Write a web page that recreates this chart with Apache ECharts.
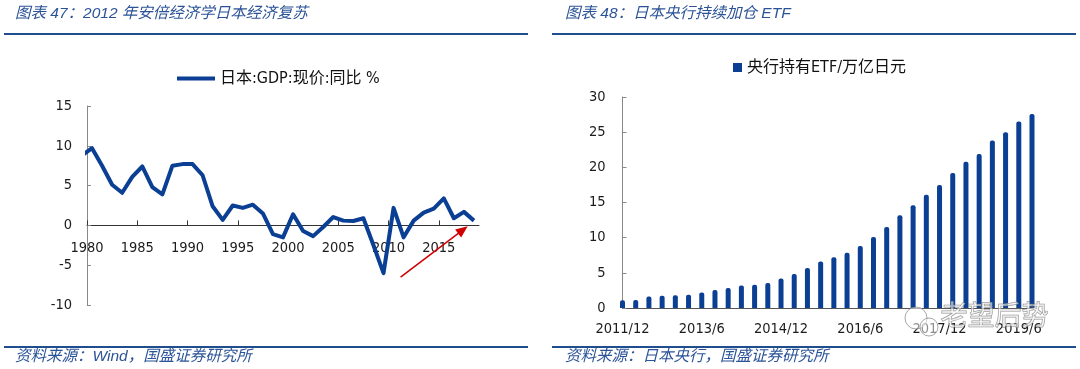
<!DOCTYPE html>
<html><head><meta charset="utf-8">
<script src="https://cdn.jsdelivr.net/npm/echarts@6/dist/echarts.min.js"></script>
<style>html,body{margin:0;padding:0;background:#fff}#c{width:1080px;height:369px}</style>
</head><body><div id="c"></div>
<script>
// ---------- Data ----------
const gdpYears = [1979,1980,1981,1982,1983,1984,1985,1986,1987,1988,1989,1990,1991,1992,1993,1994,1995,1996,1997,1998,1999,2000,2001,2002,2003,2004,2005,2006,2007,2008,2009,2010,2011,2012,2013,2014,2015,2016,2017,2018];
const gdpValues = [8.8,9.7,7.5,5.1,4.1,6.1,7.4,4.8,3.9,7.5,7.7,7.7,6.3,2.4,0.7,2.5,2.2,2.6,1.5,-1.1,-1.5,1.4,-0.7,-1.35,-0.2,1.05,0.6,0.55,0.9,-2.5,-6.0,2.2,-1.5,0.6,1.6,2.1,3.4,0.9,1.7,0.6];
const gdpXTicks = [1980,1985,1990,1995,2000,2005,2010,2015];
const gdpName = '日本:GDP:现价:同比 %';
const arrowFrom = [2011.2, -6.5];
const arrowTo = [2017.4, -0.55];

const etfQuarters = ['2011/12','2012/3','2012/6','2012/9','2012/12','2013/3','2013/6','2013/9','2013/12','2014/3','2014/6','2014/9','2014/12','2015/3','2015/6','2015/9','2015/12','2016/3','2016/6','2016/9','2016/12','2017/3','2017/6','2017/9','2017/12','2018/3','2018/6','2018/9','2018/12','2019/3','2019/6','2019/9'];
const etfValues = [1.1,1.15,1.65,1.75,1.8,1.9,2.2,2.55,2.85,3.2,3.3,3.55,4.2,4.85,5.7,6.6,7.2,7.85,8.8,10.1,11.5,13.2,14.6,16.1,17.5,19.2,20.8,21.9,23.8,25.0,26.5,27.6];
const etfName = '央行持有ETF/万亿日元';

const titleLeft = '图表 47：2012 年安倍经济学日本经济复苏';
const titleRight = '图表 48：日本央行持续加仓 ETF';
const sourceLeft = '资料来源：Wind，国盛证券研究所';
const sourceRight = '资料来源：日本央行，国盛证券研究所';
const watermark = '老望后势';

// ---------- Chart ----------
const FONT = "'DejaVu Sans Condensed', 'Noto Sans CJK SC', sans-serif";
const HFONT = "'Liberation Sans', 'Noto Sans CJK SC', sans-serif";
const MAIN = '#0a3f93';
const HEAD = '#2b5397';
const RULE = '#1f4e8f';
const LABEL = '#1c1c1c';
const TICK_FS = 14.5;

const gdpMin = -10, gdpMax = 15, gdpGridH = 199;

const chart = echarts.init(document.getElementById('c'), null, {renderer: 'canvas'});
const option = {
  animation: false,
  backgroundColor: '#fff',
  textStyle: {fontFamily: FONT},
  grid: [
    {left: 87, top: 106, width: 392, height: gdpGridH},
    {left: 622.5, top: 97, width: 409.5, height: 211}
  ],
  xAxis: [
    {
      type: 'value', gridIndex: 0, min: 1980, max: 2019,
      // axis sits on the zero line of the value scale
      offset: -gdpGridH * (0 - gdpMin) / (gdpMax - gdpMin),
      axisLine: {onZero: false, lineStyle: {color: '#333', width: 1}},
      axisTick: {show: true, inside: true, length: 5, customValues: gdpXTicks, lineStyle: {color: '#333'}},
      axisLabel: {customValues: gdpXTicks, margin: 16, fontSize: TICK_FS, color: LABEL, fontFamily: FONT, formatter: v => String(v)},
      splitLine: {show: false}
    },
    {
      type: 'category', gridIndex: 1, data: etfQuarters, boundaryGap: false,
      axisLine: {lineStyle: {color: '#555', width: 1}},
      axisTick: {show: false},
      axisLabel: {interval: 5, margin: 14, fontSize: TICK_FS, color: LABEL, fontFamily: FONT},
      splitLine: {show: false}
    }
  ],
  yAxis: [
    {
      type: 'value', gridIndex: 0, min: gdpMin, max: gdpMax, interval: 5,
      axisLine: {show: true, onZero: false, lineStyle: {color: '#888'}},
      axisTick: {show: true, inside: true, length: 4, lineStyle: {color: '#888'}},
      axisLabel: {margin: 15, fontSize: TICK_FS, color: LABEL, fontFamily: FONT},
      splitLine: {show: false}
    },
    {
      type: 'value', gridIndex: 1, min: 0, max: 30, interval: 5,
      axisLine: {show: true, onZero: false, lineStyle: {color: '#888'}},
      axisTick: {show: true, inside: true, length: 4, lineStyle: {color: '#888'}},
      axisLabel: {margin: 17, fontSize: TICK_FS, color: LABEL, fontFamily: FONT},
      splitLine: {show: false}
    }
  ],
  legend: [
    {
      data: [gdpName], left: 177, top: 70.5, padding: 0,
      icon: 'rect', itemWidth: 38, itemHeight: 4,
      textStyle: {fontSize: 16, color: '#111', fontFamily: FONT},
      selectedMode: false
    },
    {
      data: [etfName], left: 733, top: 59.5, padding: 0,
      icon: 'rect', itemWidth: 9, itemHeight: 9,
      textStyle: {fontSize: 16, color: '#111', fontFamily: FONT},
      selectedMode: false
    }
  ],
  series: [
    {
      name: gdpName, type: 'line', xAxisIndex: 0, yAxisIndex: 0,
      data: gdpYears.map((y, i) => [y + 0.5, gdpValues[i]]),
      symbol: 'none', clip: true,
      lineStyle: {color: MAIN, width: 4, join: 'round'},
      itemStyle: {color: MAIN},
      markLine: {
        silent: true, symbol: ['none', 'triangle'], symbolSize: [10, 12],
        label: {show: false},
        lineStyle: {color: '#d00000', width: 1.5, type: 'solid'},
        emphasis: {disabled: true},
        data: [[{coord: arrowFrom}, {coord: arrowTo}]]
      }
    },
    {
      name: etfName, type: 'bar', xAxisIndex: 1, yAxisIndex: 1,
      data: etfValues, barWidth: 5,
      itemStyle: {color: MAIN, borderRadius: [2, 2, 0, 0]}
    }
  ],
  graphic: [
    {type: 'text', left: 15, top: 6, style: {text: titleLeft, fill: HEAD, font: 'italic 15.5px ' + HFONT}},
    {type: 'text', left: 565, top: 6, style: {text: titleRight, fill: HEAD, font: 'italic 15.5px ' + HFONT}},
    {type: 'rect', shape: {x: 4, y: 33, width: 524, height: 2}, style: {fill: RULE}},
    {type: 'rect', shape: {x: 552, y: 33, width: 524, height: 2}, style: {fill: RULE}},
    {type: 'rect', shape: {x: 4, y: 346, width: 524, height: 2}, style: {fill: RULE}},
    {type: 'rect', shape: {x: 552, y: 346, width: 524, height: 2}, style: {fill: RULE}},
    {type: 'text', left: 15, top: 349, style: {text: sourceLeft, fill: HEAD, font: 'italic 15.5px ' + HFONT}},
    {type: 'text', left: 565, top: 349, style: {text: sourceRight, fill: HEAD, font: 'italic 15.5px ' + HFONT}},
    {type: 'text', left: 940, top: 304, z: 100, style: {text: watermark, fill: 'rgba(255,255,255,0.55)', stroke: 'rgba(110,110,110,0.75)', lineWidth: 1, font: '27px ' + HFONT}},
    {type: 'circle', z: 100, shape: {cx: 916, cy: 318, r: 11}, style: {fill: 'rgba(255,255,255,0.5)', stroke: 'rgba(130,130,130,0.7)', lineWidth: 1}},
    {type: 'circle', z: 100, shape: {cx: 929, cy: 327, r: 9}, style: {fill: 'rgba(255,255,255,0.5)', stroke: 'rgba(130,130,130,0.7)', lineWidth: 1}}
  ]
};
chart.setOption(option);
</script>
</body></html>
